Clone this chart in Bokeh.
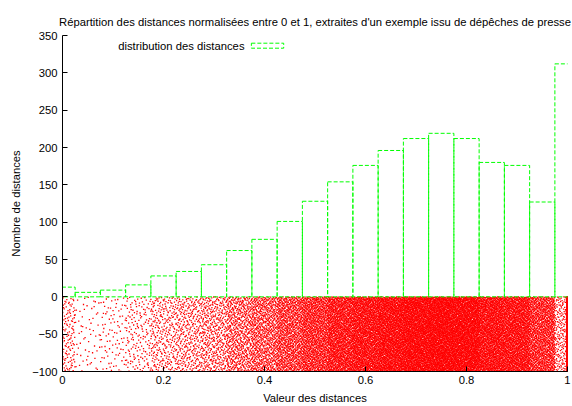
import numpy as np
from bokeh.plotting import figure
from bokeh.models import Range1d, FixedTicker, Label, BoxAnnotation, ColumnDataSource
from bokeh.embed import file_html
from bokeh.resources import INLINE

# ---- data ----
title_text = ("Répartition des distances normalisées entre 0 et 1, "
              "extraites d'un exemple issu de dépêches de presse")
x_label = "Valeur des distances"
y_label = "Nombre de distances"
legend_text = "distribution des distances"

bin_width = 0.05
bin_centers = [0.00, 0.05, 0.10, 0.15, 0.20, 0.25, 0.30, 0.35, 0.40, 0.45, 0.50,
               0.55, 0.60, 0.65, 0.70, 0.75, 0.80, 0.85, 0.90, 0.95, 1.00]
bin_counts = [13, 6, 9, 16, 28, 34, 43, 62, 77, 101, 128,
              154, 176, 196, 212, 219, 212, 180, 176, 127, 312]
# number of individual distances drawn as dots in the strip under the axis (per bin)
dot_counts = [120, 60, 90, 160, 280, 340, 430, 620, 770, 1010, 1280,
              1540, 1760, 1960, 2120, 2190, 2120, 1800, 1760, 1270, 200]
dots_exactly_one = 2900

x_ticks = [0.0, 0.2, 0.4, 0.6, 0.8, 1.0]
x_tick_labels = ["0", "0.2", "0.4", "0.6", "0.8", "1"]
y_ticks = [-100, -50, 0, 50, 100, 150, 200, 250, 300, 350]
y_tick_labels = ["\u2212100", "\u221250", "0", "50", "100", "150", "200", "250", "300", "350"]

FONT = "Liberation Sans"
FSIZE = "11.25px"
GREEN = "#00ff00"
RED = "#ff0000"


def radical_inverse(k, base):
    """Deterministic low-discrepancy sequence used only to spread dots (jitter)."""
    k = np.asarray(k, dtype=np.int64).copy()
    out = np.zeros(k.shape, dtype=float)
    f = 1.0 / base
    while np.any(k > 0):
        out += f * (k % base)
        k //= base
        f /= base
    return out


p = figure(width=572, height=406, x_range=Range1d(0, 1), y_range=Range1d(-100, 350),
           output_backend="svg", toolbar_location=None,
           min_border_left=62, min_border_right=5, min_border_top=35, min_border_bottom=34)
p.outline_line_color = None
p.grid.visible = False
p.background_fill_color = "white"

p.title.text = title_text
p.title.align = "center"
p.title.offset = -7
p.title.standoff = 15
p.title.text_font = FONT
p.title.text_font_size = FSIZE
p.title.text_font_style = "normal"
p.title.text_color = "#000000"

# ---- dots: each bin's distances spread (jitter) inside the strip below zero ----
xs, ys = [], []
start = 1
for c, n in zip(bin_centers, dot_counts):
    lo = max(0.0, c - bin_width / 2)
    hi = min(1.0, c + bin_width / 2)
    k = np.arange(start, start + n)
    start += n
    xs.append(lo + radical_inverse(k, 2) * (hi - lo) * 0.999)
    ys.append(-100 + radical_inverse(k, 3) * 100)
k = np.arange(1, dots_exactly_one + 1)
xs.append(np.full(dots_exactly_one, 1.0))
ys.append(-100 + radical_inverse(k, 3) * 100)
dots = ColumnDataSource(dict(x=np.concatenate(xs), y=np.concatenate(ys)))
p.scatter("x", "y", source=dots, marker="square", size=1.3,
          fill_color=RED, line_color=None)

# ---- histogram bars ----
centers = np.array(bin_centers)
bars = ColumnDataSource(dict(left=centers - bin_width / 2, right=centers + bin_width / 2,
                             top=bin_counts, bottom=[0] * len(bin_counts)))
p.quad(left="left", right="right", top="top", bottom="bottom", source=bars,
       fill_color=None, line_color=GREEN, line_width=1, line_dash="4 2")

# ---- key ----
p.add_layout(Label(x=0.3604, y=336.6, text=legend_text, text_align="right",
                   text_baseline="middle", text_font=FONT, text_font_size=FSIZE,
                   text_color="#000000"))
p.add_layout(BoxAnnotation(left=0.374, right=0.438, top=339.7, bottom=333.0,
                           fill_color=None, fill_alpha=0, line_color=GREEN,
                           line_width=1, line_dash="4 2", line_alpha=1))

# ---- axes ----
for ax in (p.xaxis[0], p.yaxis[0]):
    ax.axis_line_color = "#000000"
    ax.axis_line_width = 1
    ax.major_tick_in = 5
    ax.major_tick_out = 0
    ax.minor_tick_in = 0
    ax.minor_tick_out = 0
    ax.major_tick_line_color = "#000000"
    ax.major_label_text_font = FONT
    ax.major_label_text_font_size = FSIZE
    ax.major_label_text_color = "#000000"
    ax.axis_label_text_font = FONT
    ax.axis_label_text_font_size = FSIZE
    ax.axis_label_text_font_style = "normal"
    ax.axis_label_text_color = "#000000"

p.xaxis.ticker = FixedTicker(ticks=x_ticks)
p.xaxis.major_label_overrides = dict(zip(x_ticks, x_tick_labels))
p.xaxis.axis_label = x_label
p.xaxis.major_label_standoff = 4
p.xaxis.axis_label_standoff = 5

p.yaxis.ticker = FixedTicker(ticks=y_ticks)
p.yaxis.major_label_overrides = dict(zip(y_ticks, y_tick_labels))
p.yaxis.axis_label = y_label
p.yaxis.major_label_standoff = 5
p.yaxis.axis_label_standoff = 7

open("out.html", "w").write(file_html(p, INLINE))
